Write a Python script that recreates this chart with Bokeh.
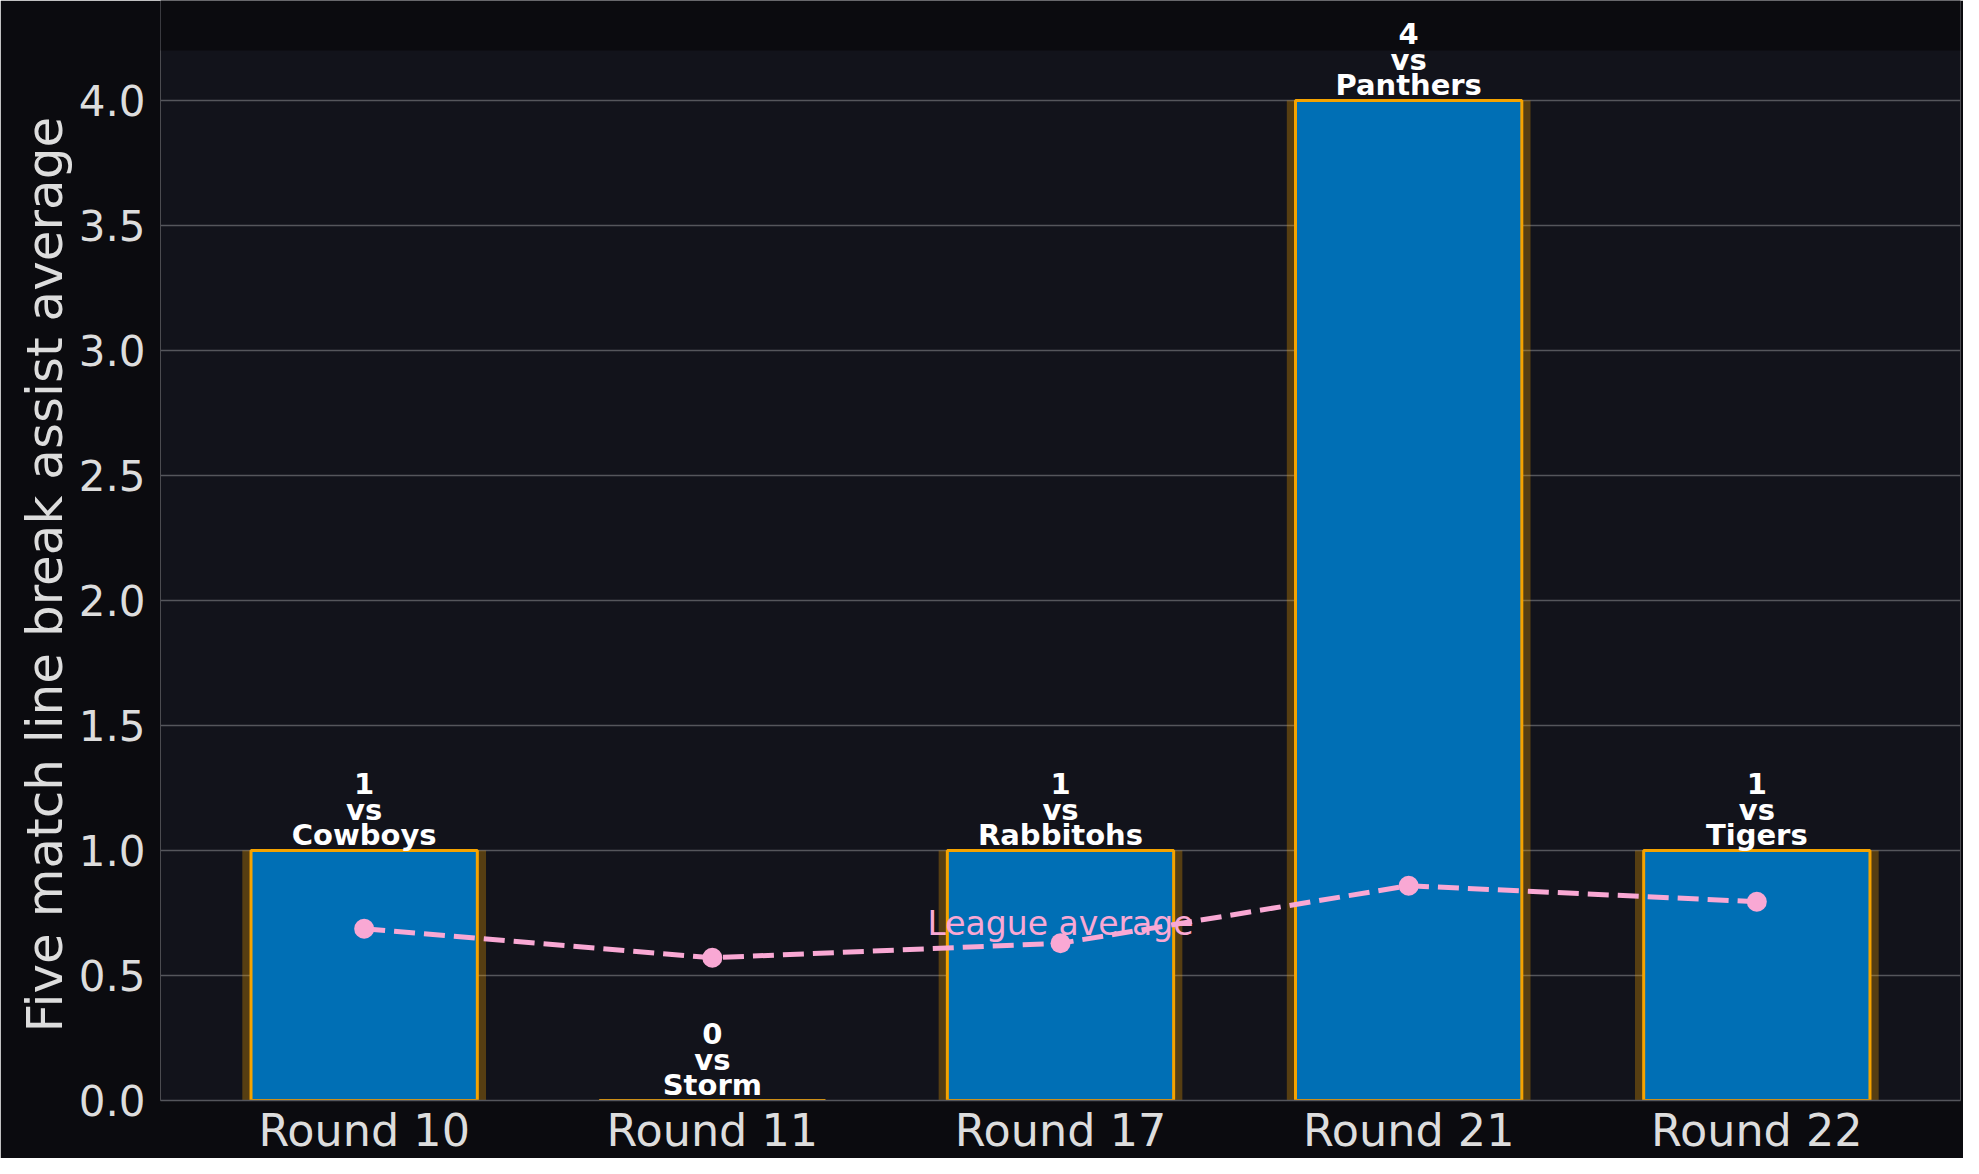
from bokeh.plotting import figure
from bokeh.models import (ColumnDataSource, FixedTicker, LabelSet, Label,
                          Range1d, BoxAnnotation, Title)
from bokeh.core.properties import value
from bokeh.embed import file_html
from bokeh.resources import INLINE

# --- data ---
rounds = ["Round 10", "Round 11", "Round 17", "Round 21", "Round 22"]
opponents = ["Cowboys", "Storm", "Rabbitohs", "Panthers", "Tigers"]
assists = [1, 0, 1, 4, 1]
league_avg = [0.687, 0.571, 0.629, 0.859, 0.795]
y_ticks = [0.0, 0.5, 1.0, 1.5, 2.0, 2.5, 3.0, 3.5, 4.0]

# colours
BG = "#0b0b0f"
PANEL = "#12131b"
GRID = "#55565c"
TXT = "#dddddd"
BLUE = "#006fb5"
ORANGE = "#f5a300"
PINK = "#f9a8d4"
FONT = "DejaVu Sans"

idx = list(range(len(rounds)))
src = ColumnDataSource(
    dict(
        x=idx,
        top=assists,
        avg=league_avg,
        val=[str(v) for v in assists],
        vs=["vs"] * len(assists),
        opp=opponents,
    )
)

# the frame runs to the top of the canvas so the labels above the tallest
# bar are not clipped; the strip above the axes area is painted like the page
p = figure(
    width=1963,
    height=1158,
    x_range=Range1d(-0.585, 4.585),
    y_range=Range1d(0, 4.4),
    toolbar_location=None,
    output_backend="svg",
    min_border_left=160,
    min_border_right=3,
    min_border_top=0,
    min_border_bottom=58,
)
p.background_fill_color = PANEL
p.border_fill_color = BG
p.outline_line_color = None
p.add_layout(BoxAnnotation(bottom=4.2, fill_color=BG, fill_alpha=1.0,
                           line_color=None, level="underlay"))

# glow behind the bars
p.vbar(x="x", top="top", width=0.70, source=src, fill_color=ORANGE,
       fill_alpha=0.3, line_color=None)
# bars
p.vbar(x="x", top="top", width=0.65, source=src, fill_color=BLUE,
       line_color=ORANGE, line_width=3)

# league average
p.line(x="x", y="avg", source=src, line_color=PINK, line_width=5,
       line_dash="21 9")
p.scatter(x="x", y="avg", source=src, size=20, fill_color=PINK, line_color=None)

p.add_layout(
    Label(x=2, y=0.71, text="League average", text_align="center",
          text_baseline="alphabetic", text_color=PINK, text_font=FONT,
          text_font_size="33px")
)

# value / opponent labels above each bar, one LabelSet per text line
for col, off in (("opp", 6), ("vs", 31), ("val", 57)):
    p.add_layout(
        LabelSet(x="x", y="top", text=col, source=src, y_offset=off,
                 text_align="center", text_baseline="alphabetic",
                 text_color="white", text_font=value(FONT),
                 text_font_style="bold", text_font_size="29px")
    )

# axes
p.xaxis.ticker = FixedTicker(ticks=idx)
p.xaxis.major_label_overrides = {i: r for i, r in zip(idx, rounds)}
p.yaxis.ticker = FixedTicker(ticks=y_ticks)
p.yaxis.major_label_overrides = {t: f"{t:.1f}" for t in y_ticks}

for ax in (p.xaxis, p.yaxis):
    ax.major_tick_line_color = None
    ax.minor_tick_line_color = None
    ax.major_tick_out = 0
    ax.major_tick_in = 0
    ax.minor_tick_out = 0
    ax.minor_tick_in = 0
    ax.major_label_text_color = TXT
    ax.major_label_text_font = FONT

p.xaxis.major_label_text_font_size = "44.5px"
p.yaxis.major_label_text_font_size = "42px"
p.xaxis.axis_line_color = GRID
p.xaxis.axis_line_width = 1.5
p.xaxis.major_label_standoff = 4
p.yaxis.axis_line_color = None
p.yaxis.major_label_standoff = 15

# y axis title, placed from the bottom so it sits centred on the painted area
p.add_layout(
    Title(text="Five match line break assist average", align="left",
          offset=68, standoff=4, text_color=TXT, text_font=FONT,
          text_font_size="50px", text_font_style="normal"),
    "left",
)

p.xgrid.grid_line_color = None
p.ygrid.grid_line_color = GRID
p.ygrid.grid_line_width = 1.5

open("out.html", "w").write(file_html(p, INLINE))
